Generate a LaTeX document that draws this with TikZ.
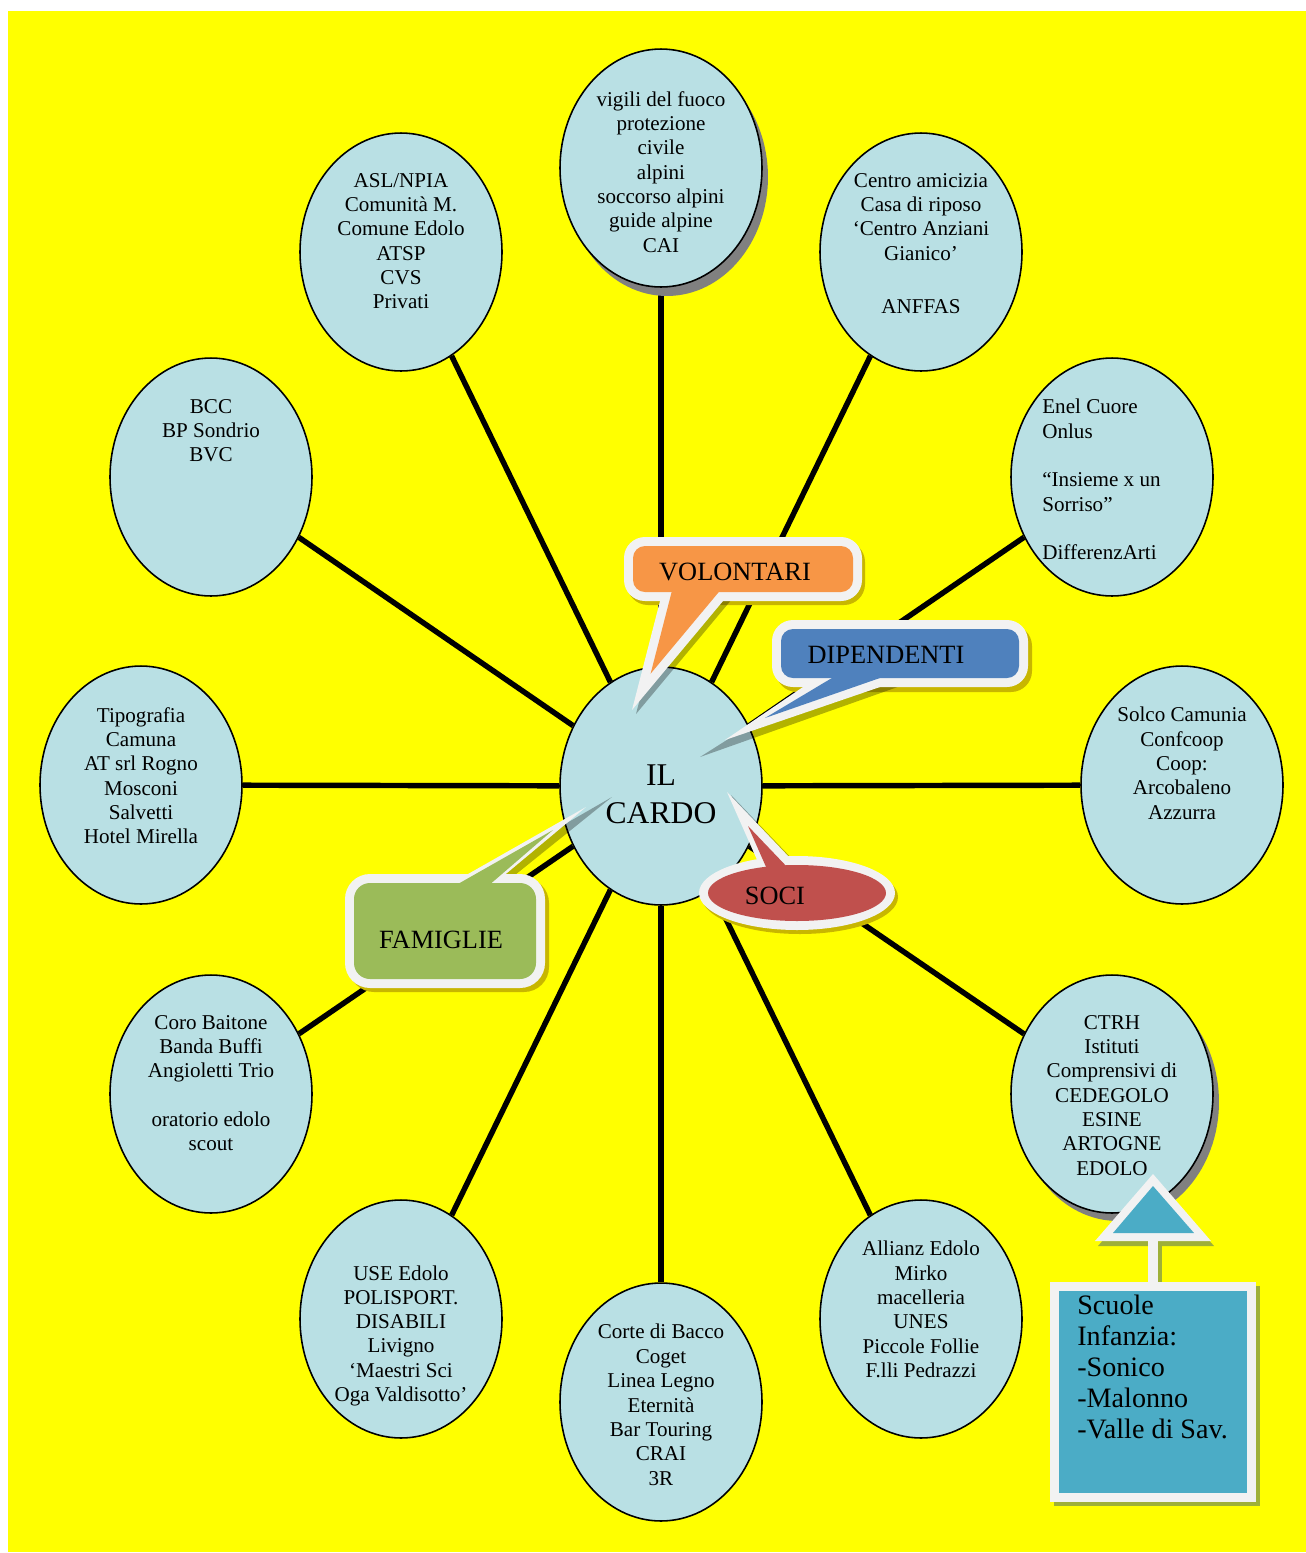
\documentclass[tikz,border=0pt]{standalone}
\usepackage{fontspec}
\setmainfont{Liberation Serif}
\usetikzlibrary{shapes.geometric}
\pgfdeclarelayer{bg}
\pgfsetlayers{bg,main}
\definecolor{bgyellow}{RGB}{255,255,0}
\definecolor{ellfill}{RGB}{185,224,228}
\definecolor{cwhite}{RGB}{242,242,242}
\definecolor{corange}{RGB}{247,150,70}
\definecolor{cblue}{RGB}{79,129,189}
\definecolor{cred}{RGB}{192,80,77}
\definecolor{cgreen}{RGB}{155,187,89}
\definecolor{cteal}{RGB}{75,172,198}
\definecolor{cshadow}{RGB}{200,182,0}
\definecolor{olivesh}{RGB}{158,176,56}
\definecolor{eshadow}{RGB}{128,128,128}
\begin{document}
\begin{tikzpicture}[x=0.02cm,y=-0.02cm,
  partner/.style={ellipse, draw=black, line width=0.9pt, fill=ellfill,
     minimum width=4.04cm, minimum height=4.76cm, inner sep=0pt},
  spoke/.style={line width=3.1pt, draw=black},
  ptext/.style={anchor=north, align=center, inner sep=0pt,
     font=\fontsize{12}{13.85}\selectfont, execute at begin node=\strut},
  ltext/.style={ptext, anchor=north west, align=left},
  ctext/.style={anchor=base, inner sep=0pt, font=\fontsize{15}{17}\selectfont},
  tailshadow/.style={fill=black, opacity=0.3},
]
\useasboundingbox (0,0) rectangle (1306,1553);
\begin{pgfonlayer}{bg}
\fill[bgyellow] (8,11) rectangle (1306,1552);
\end{pgfonlayer}

% ellipse shadows
\fill[eshadow] (667,177) ellipse [x radius=2.02cm, y radius=2.38cm];
\fill[eshadow] (1118,1102) ellipse [x radius=2.02cm, y radius=2.38cm];

% ellipses
\node[partner] (hub) at (661,786) {};
\node[partner] (e1) at (661,168) {};
\node[partner] (e2) at (401,252) {};
\node[partner] (e3) at (921,252) {};
\node[partner] (e4) at (211,477) {};
\node[partner] (e5) at (1112,477) {};
\node[partner] (e6) at (141,785) {};
\node[partner] (e7) at (1182,785) {};
\node[partner] (e8) at (211,1094) {};
\node[partner] (e9) at (1112,1094) {};
\node[partner] (e10) at (401,1319) {};
\node[partner] (e11) at (661,1402) {};
\node[partner] (e12) at (921,1319) {};

\begin{pgfonlayer}{bg}
\foreach \n in {e1,e2,e3,e4,e5,e6,e7,e8,e9,e10,e11,e12}
  \draw[spoke] (hub) -- (\n);
\end{pgfonlayer}

% texts
\node[ptext] (t1) at (661,91) {vigili del fuoco\\protezione\\civile\\alpini\\soccorso alpini\\guide alpine\\CAI};
\node[ptext] (t2) at (401,173) {ASL/NPIA\\Comunità M.\\Comune Edolo\\ATSP\\CVS\\Privati};
\node[ptext] (t3) at (921,173) {Centro amicizia\\Casa di riposo\\‘Centro Anziani\\Gianico’\\[16.5pt]ANFFAS};
\node[ptext] (t4) at (211,399) {BCC\\BP Sondrio\\BVC};
\node[ltext] (t5) at (1042,399) {Enel Cuore\\Onlus\\[13.85pt]“Insieme x un\\Sorriso”\\[13.85pt]DifferenzArti};
\node[ptext] (t6) at (141,707) {Tipografia\\Camuna\\AT srl Rogno\\Mosconi\\Salvetti\\Hotel Mirella};
\node[ptext] (t7) at (1182,707) {Solco Camunia\\Confcoop\\Coop:\\Arcobaleno\\Azzurra};
\node[ptext] (t8) at (211,1015) {Coro Baitone\\Banda Buffi\\Angioletti Trio\\[13.85pt]oratorio edolo\\scout};
\node[ptext] (t9) at (1112,1015) {CTRH\\Istituti\\Comprensivi di\\CEDEGOLO\\ESINE\\ARTOGNE\\EDOLO};
\node[ptext] (t10) at (401,1265) {USE Edolo\\POLISPORT.\\DISABILI\\Livigno\\‘Maestri Sci\\Oga Valdisotto’};
\node[ptext] (t11) at (661,1324) {Corte di Bacco\\Coget\\Linea Legno\\Eternità\\Bar Touring\\CRAI\\3R};
\node[ptext] (t12) at (921,1241) {Allianz Edolo\\Mirko\\macelleria\\UNES\\Piccole Follie\\F.lli Pedrazzi};
\node[ptext, font=\fontsize{18}{21.5}\selectfont] (hubtxt) at (661,764.5) {IL\\CARDO};

% VOLONTARI callout
\fill[cshadow, rounded corners=0.42cm] (627,541) rectangle (865,605);
\fill[tailshadow] (636,714) -- (670.7,579) -- (748.7,579) -- cycle;
\fill[cwhite, rounded corners=0.42cm] (624,537) rectangle (862,601);
\fill[cwhite] (632,710) -- (666.7,575) -- (744.7,575) -- cycle;
\fill[corange, rounded corners=0.24cm] (633,546) rectangle (853,592);
\fill[corange] (650.6,673.7) -- (676,575) -- (733,575) -- cycle;
\node[ctext] (volt) at (735,580) {VOLONTARI};

% DIPENDENTI callout
\fill[cshadow, rounded corners=0.42cm] (776,625) rectangle (1032,692);
\fill[tailshadow] (700,757) -- (842,667) -- (954,667) -- cycle;
\fill[cwhite, rounded corners=0.42cm] (772,620) rectangle (1028,687);
\fill[cwhite] (725,740) -- (838.3,663) -- (950.2,663) -- cycle;
\fill[cblue, rounded corners=0.24cm] (781,629) rectangle (1019,678);
\fill[cblue] (765,718) -- (857,663) -- (923,663) -- cycle;
\node[ctext] (dipt) at (886,663) {DIPENDENTI};

% SOCI callout
\fill[cshadow] (800,897) ellipse [x radius=1.96cm, y radius=0.74cm];
\fill[tailshadow] (731,795) -- (772,888) -- (820,888) -- cycle;
\fill[cwhite] (797,893) ellipse [x radius=1.96cm, y radius=0.74cm];
\fill[cwhite] (727,792) -- (768.2,885) -- (815.8,885) -- cycle;
\fill[cred] (797,893) ellipse [x radius=1.78cm, y radius=0.56cm];
\fill[cred] (748,826) -- (774,885) -- (804.3,885) -- cycle;
\node[ctext] (socit) at (775,904) {SOCI};

% FAMIGLIE callout
\fill[cshadow, rounded corners=0.5cm] (349,878) rectangle (549,992);
\fill[tailshadow] (612,797) -- (417.5,909) -- (472.7,909) -- cycle;
\fill[cwhite, rounded corners=0.5cm] (345,874) rectangle (545,988);
\fill[cwhite] (586,807) -- (413.5,905) -- (468.7,905) -- cycle;
\fill[cgreen, rounded corners=0.32cm] (354,883) rectangle (536,979);
\fill[cgreen] (553,830) -- (421,905) -- (466,905) -- cycle;
\node[ctext] (famt) at (441,948) {FAMIGLIE};

% Scuole box with up arrow
\fill[olivesh] (1054,1286) rectangle (1260,1506);
\fill[olivesh] (1153,1241) rectangle (1162,1282);
\fill[olivesh] (1156,1179) -- (1098,1246) -- (1214,1246) -- cycle;
\node[draw=cwhite, fill=cteal, line width=5.1pt, minimum width=3.94cm,
      minimum height=4.22cm, inner sep=0pt, outer sep=0pt] (scuole) at (1153,1392) {};
\coordinate (tribase) at (1153,1241);
\draw[cwhite, line width=5.67pt] (scuole.north) -- (tribase);
\fill[cwhite] (1153,1174) -- (1095,1241) -- (1211,1241) -- cycle;
\fill[cteal] (1153,1186) -- (1113,1233) -- (1194,1233) -- cycle;
\node[anchor=north west, align=left, inner sep=0pt, font=\fontsize{16}{17.6}\selectfont,
      execute at begin node=\strut] (scuoletxt) at (1077,1295)
      {Scuole\\Infanzia:\\-Sonico\\-Malonno\\-Valle di Sav.};
\end{tikzpicture}
\end{document}
